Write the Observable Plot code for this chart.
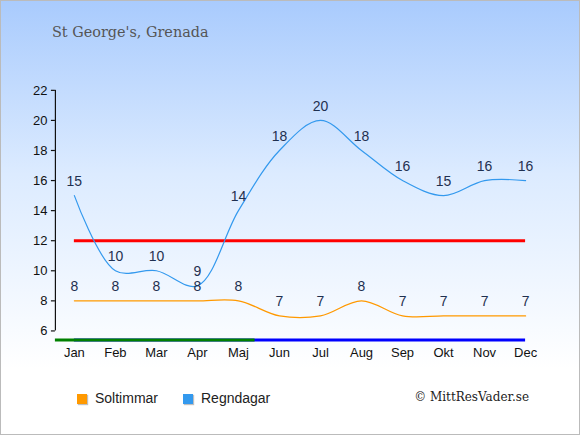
<!DOCTYPE html>
<html><head><meta charset="utf-8">
<script src="https://cdn.jsdelivr.net/npm/d3@7"></script>
<script src="https://cdn.jsdelivr.net/npm/@observablehq/plot@0.6"></script>
<style>
html,body{margin:0;padding:0;}
#wrap{position:relative;width:578px;height:433px;border:1px solid #bbb;background:linear-gradient(#a9cbfd 0%,#dcebff 40%,#ffffff 85%);overflow:hidden;font-family:"Liberation Sans",Arial,sans-serif;}
#title{position:absolute;left:51px;top:23px;font-family:"DejaVu Serif","Liberation Serif",serif;font-size:14.4px;color:#555;}
#plot{position:absolute;left:-1px;top:-1px;}
.leg{position:absolute;top:389px;font-size:14px;color:#222;}
.sw{display:inline-block;width:10px;height:10px;margin-right:8px;box-shadow:1px 1px 1px rgba(0,0,0,0.25);vertical-align:-1px;}
#copy{position:absolute;right:50px;top:389px;font-family:"DejaVu Serif","Liberation Serif",serif;font-size:12px;color:#222;}
</style></head>
<body>
<div id="wrap">
<div id="plot"></div>
<div id="title">St George's, Grenada</div>
<div class="leg" style="left:76px"><span class="sw" style="background:#f90"></span>Soltimmar</div>
<div class="leg" style="left:182px"><span class="sw" style="background:#3399ee"></span>Regndagar</div>
<div id="copy">© MittResVader.se</div>
</div>
<script>
const months = ["Jan","Feb","Mar","Apr","Maj","Jun","Jul","Aug","Sep","Okt","Nov","Dec"];
const soltimmar = [8,8,8,8,8,7,7,8,7,7,7,7];
const regndagar = [15,10,10,9,14,18,20,18,16,15,16,16];
const yTicks = [6,8,10,12,14,16,18,20,22];

const sun = months.map((m,i)=>({i, v: soltimmar[i]}));
const rain = months.map((m,i)=>({i, v: regndagar[i]}));
const idx = months.map((m,i)=>i);
const step = (526-74)/11;
const x0 = -(74-55)/step;
const pxPerUnit = (331-90)/16;
const yAxisLine = 6 - 9/pxPerUnit;
const yMin = 5.0;
const bottomPx = 331 + (6 - yMin) * pxPerUnit;

const chart = Plot.plot({
  width: 580, height: 435,
  marginLeft: 55, marginRight: 54, marginTop: 90, marginBottom: 435 - bottomPx,
  style: {background: "transparent", fontFamily: "'Liberation Sans', Arial, sans-serif", fontSize: "13px", color: "#111", overflow: "visible"},
  x: {type: "linear", domain: [x0, 11], axis: null},
  y: {domain: [yMin, 22], axis: null},
  marks: [
    Plot.ruleX([x0], {x: d=>d, y1: 6, y2: 22, stroke: "#111", strokeWidth: 1.2}),
    Plot.ruleY(yTicks, {y: d=>d, x1: x0, x2: x0, insetLeft: -4, stroke: "#111", strokeWidth: 1.2}),
    Plot.text(yTicks, {x: x0, y: d=>d, text: d=>String(d), dx: -8, textAnchor: "end", fill: "#111", fontSize: 13}),
    Plot.ruleY([12], {y: d=>d, x1: 0, x2: 11, stroke: "red", strokeWidth: 3}),
    Plot.ruleY([yAxisLine], {y: d=>d, x1: 0, x2: 11, stroke: "blue", strokeWidth: 3}),
    Plot.ruleY([yAxisLine], {y: d=>d, x1: x0, x2: x0, insetRight: -200, stroke: "green", strokeWidth: 3}),
    Plot.text(idx, {x: d=>d, y: 6, dy: 22, text: d=>months[d], fill: "#111", fontSize: 13}),
    Plot.line(sun, {x: "i", y: "v", curve: "catmull-rom", stroke: "#f90", strokeWidth: 1.2}),
    Plot.line(rain, {x: "i", y: "v", curve: "catmull-rom", stroke: "#3399ee", strokeWidth: 1.2}),
    Plot.text(sun, {x: "i", y: "v", text: d=>String(d.v), dy: -14, fill: "#1f3050", fontSize: 14}),
    Plot.text(rain, {x: "i", y: "v", text: d=>String(d.v), dy: -14, fill: "#1f3050", fontSize: 14})
  ]
});
document.getElementById("plot").appendChild(chart);
</script>
</body></html>
